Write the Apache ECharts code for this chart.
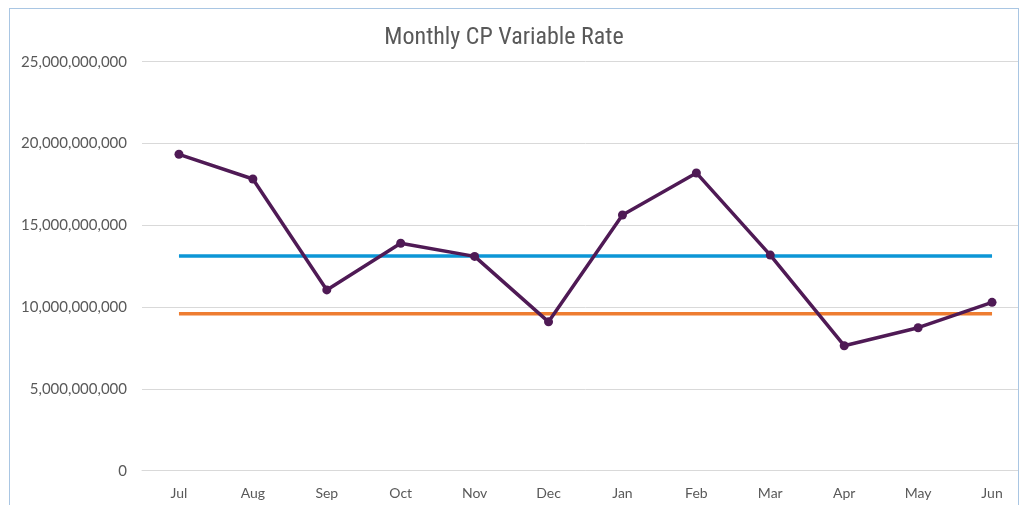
<!DOCTYPE html>
<html>
<head>
<meta charset="utf-8">
<script src="https://cdn.jsdelivr.net/npm/echarts@6/dist/echarts.min.js"></script>
<style>
  html, body { margin: 0; padding: 0; background: #fff; overflow: hidden; }
  #frame { position: absolute; left: 9px; top: 8px; width: 1008px; height: 520px;
           border: 1px solid #a9c6e3; overflow: hidden; }
  #chart { position: absolute; left: -10px; top: -9px; width: 1040px; height: 505px; }
</style>
</head>
<body>
<div id="frame"><div id="chart"></div></div>
<script>
const months = ["Jul", "Aug", "Sep", "Oct", "Nov", "Dec", "Jan", "Feb", "Mar", "Apr", "May", "Jun"];
const rate = [19.34e9, 17.83e9, 11.05e9, 13.9e9, 13.1e9, 9.1e9, 15.63e9, 18.2e9, 13.18e9, 7.64e9, 8.74e9, 10.29e9];
const upperLevel = 13.12e9;
const lowerLevel = 9.6e9;

const upper = months.map(() => upperLevel);
const lower = months.map(() => lowerLevel);

const textColor = "#595959";
const gridColor = "#d9d9d9";

let chart = echarts.init(document.getElementById("chart"), null, { renderer: "canvas" });

chart.setOption({
    animation: false,
    title: {
        text: "Monthly CP Variable Rate",
        left: 499,
        top: 21,
        textAlign: "center",
        textStyle: {
            color: textColor,
            fontSize: 24,
            fontWeight: "normal",
            fontFamily: "'Liberation Sans Narrow', 'Arial Narrow', 'Roboto Condensed', sans-serif"
        }
    },
    grid: { left: 142, right: 11, top: 61.7, bottom: 34.3 },
    xAxis: {
        type: "category",
        data: months,
        boundaryGap: true,
        axisLine: { lineStyle: { color: gridColor, width: 1 } },
        axisTick: { show: false },
        axisLabel: { color: textColor, fontSize: 14, fontFamily: "Lato, sans-serif", margin: 16 }
    },
    yAxis: {
        type: "value",
        min: 0,
        max: 25e9,
        interval: 5e9,
        axisLine: { show: false },
        axisTick: { show: false },
        axisLabel: {
            color: textColor, fontSize: 15, fontFamily: "Lato, sans-serif", margin: 15,
            formatter: v => v.toLocaleString("en-US")
        },
        splitLine: { lineStyle: { color: gridColor, width: 1 } }
    },
    series: [
        {
            type: "line",
            data: upper,
            showSymbol: false,
            lineStyle: { color: "#0c96d6", width: 3.5 },
            z: 2
        },
        {
            type: "line",
            data: lower,
            showSymbol: false,
            lineStyle: { color: "#ee7d31", width: 3.5 },
            z: 2
        },
        {
            type: "line",
            data: rate,
            symbol: "circle",
            symbolSize: 9,
            itemStyle: { color: "#4f1a55" },
            lineStyle: { color: "#4f1a55", width: 3.5 },
            z: 3
        }
    ]
});
</script>
</body>
</html>
